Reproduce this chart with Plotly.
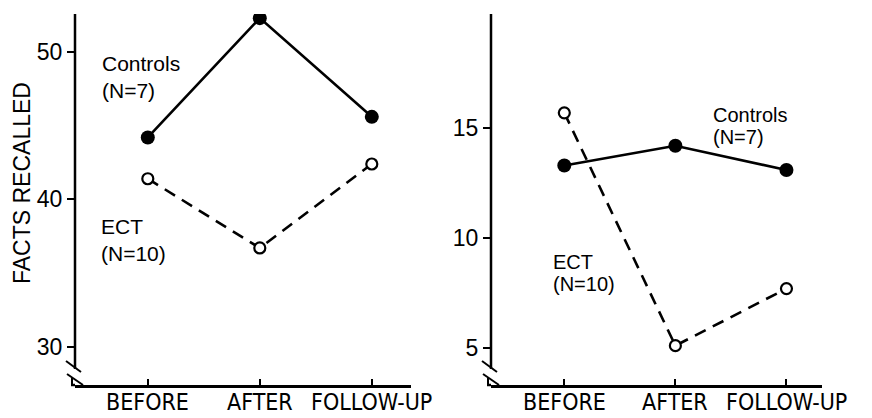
import plotly.graph_objects as go

phases = ["BEFORE", "AFTER", "FOLLOW-UP"]

# Left panel (facts recalled)
left_controls = [44.2, 52.3, 45.6]
left_ect = [41.4, 36.7, 42.4]
left_yticks = [30, 40, 50]

# Right panel
right_controls = [13.3, 14.2, 13.1]
right_ect = [15.7, 5.1, 7.7]
right_yticks = [5, 10, 15]

W, H = 872, 418
BLACK = "black"

def px(x):
    return x / W

def py(y):
    return 1 - y / H

fig = go.Figure()

def add_series(xa, ya, controls, ect):
    fig.add_trace(go.Scatter(
        x=phases, y=ect, xaxis=xa, yaxis=ya, mode="lines+markers",
        line=dict(color=BLACK, width=2.6, dash="12px,8px"),
        marker=dict(symbol="circle", size=11, color="white",
                    line=dict(color=BLACK, width=2.2)),
        showlegend=False, hoverinfo="skip"))
    fig.add_trace(go.Scatter(
        x=phases, y=controls, xaxis=xa, yaxis=ya, mode="lines+markers",
        line=dict(color=BLACK, width=2.6),
        marker=dict(symbol="circle", size=14, color=BLACK),
        showlegend=False, hoverinfo="skip"))

add_series("x", "y", left_controls, left_ect)
add_series("x2", "y2", right_controls, right_ect)

ydom = [py(385), py(14)]
HPX = 385 - 14
xfont = dict(family="Liberation Sans Narrow, DejaVu Sans Condensed, Arial Narrow, sans-serif",
             size=23, color=BLACK)
yfont = dict(family="Liberation Sans, Arial, sans-serif", size=23, color=BLACK)

common_x = dict(type="category", categoryarray=phases, showline=True, linecolor=BLACK,
                linewidth=2.5, ticks="inside", ticklen=6, tickwidth=2,
                tickcolor=BLACK, showgrid=False, zeroline=False, showticklabels=False)
common_y = dict(showline=False, ticks="outside", ticklen=7, tickwidth=2,
                tickcolor=BLACK, showgrid=False, zeroline=False, tickfont=yfont,
                ticklabelstandoff=0)

fig.update_layout(
    width=W, height=H,
    margin=dict(l=0, r=0, t=0, b=0),
    paper_bgcolor="white", plot_bgcolor="white",
    xaxis=dict(domain=[px(75), px(411)], range=[-0.65, 2.35], anchor="y", **common_x),
    yaxis=dict(domain=ydom, range=[27.4, 52.58], tickvals=left_yticks, anchor="x", **common_y),
    xaxis2=dict(domain=[px(491), px(822)], range=[-0.66, 2.32], anchor="y2", **common_x),
    yaxis2=dict(domain=ydom, range=[3.31, 20.2], tickvals=right_yticks, anchor="x2", **common_y),
)

# Category labels under each x axis, at the axis' own category positions
for xr in ("x", "x2"):
    for cat in phases:
        fig.add_annotation(text=cat, xref=xr, yref="paper", x=cat, y=py(416),
                           xanchor="center", yanchor="bottom", showarrow=False,
                           font=xfont, borderpad=0)

# Axis lines with break marks (in domain coordinates, offsets in pixels)
def break_shapes(xr, yr, wpx):
    def dx(p): return p / wpx
    def dy(p): return p / HPX
    lw = 2.5
    out = []
    out.append(dict(type="line", xref=xr, yref=yr, x0=0, x1=0, y0=dy(16), y1=1,
                    line=dict(color=BLACK, width=lw)))
    out.append(dict(type="line", xref=xr, yref=yr, x0=dx(-9), y0=dy(24), x1=dx(6), y1=dy(13),
                    line=dict(color=BLACK, width=2)))
    out.append(dict(type="line", xref=xr, yref=yr, x0=dx(-8), y0=dy(11), x1=dx(8), y1=dy(0),
                    line=dict(color=BLACK, width=2)))
    out.append(dict(type="line", xref=xr, yref=yr, x0=dx(-3), y0=dy(0), x1=dx(-3), y1=dy(7),
                    line=dict(color=BLACK, width=2)))
    out.append(dict(type="line", xref=xr, yref=yr, x0=dx(-4), y0=0, x1=0, y1=0,
                    line=dict(color=BLACK, width=lw)))
    return out

shapes = break_shapes("x domain", "y domain", 336.0) + break_shapes("x2 domain", "y2 domain", 331.0)
fig.update_layout(shapes=shapes)

def lab(text, xpx, ypx, size=21):
    f = dict(family="Liberation Sans, Arial, sans-serif", size=size, color=BLACK)
    fig.add_annotation(text=text, xref="paper", yref="paper", x=px(xpx), y=py(ypx),
                       xanchor="left", yanchor="middle", showarrow=False, font=f)

lab("Controls", 100, 63)
lab("(N=7)", 100, 91)
lab("ECT", 99, 226)
lab("(N=10)", 99, 254)
lab("Controls", 711, 115, 20)
lab("(N=7)", 711, 137, 20)
lab("ECT", 551, 262, 20)
lab("(N=10)", 551, 284, 20)

fig.add_annotation(text="FACTS RECALLED", xref="paper", yref="paper",
                   x=px(22), y=py(183), textangle=-90, showarrow=False,
                   xanchor="center", yanchor="middle",
                   font=dict(family="Liberation Sans, Arial, sans-serif", size=23, color=BLACK))

fig.write_html("out.html", config={"displayModeBar": False},
               post_script="document.body.style.margin='0';document.body.style.overflow='hidden';")
